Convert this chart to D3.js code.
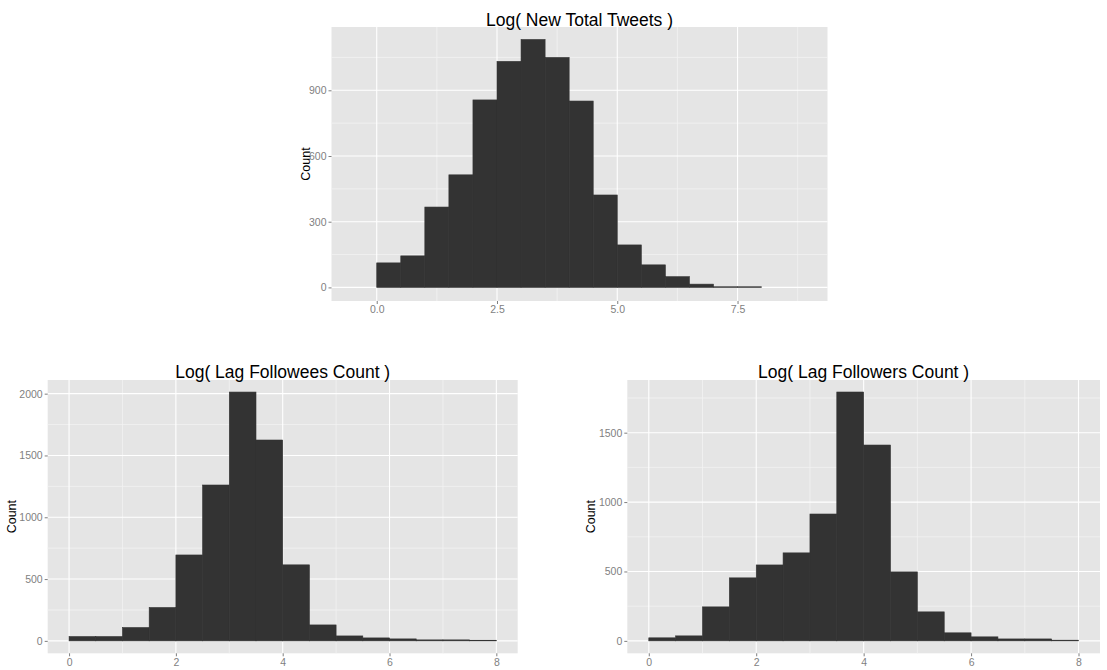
<!DOCTYPE html>
<html>
<head>
<meta charset="utf-8">
<script src="https://cdn.jsdelivr.net/npm/d3@7"></script>
<style>
  body { margin: 0; background: #fff; }
  svg text { font-family: "Liberation Sans", Arial, Helvetica, sans-serif; }
</style>
</head>
<body>
<svg id="chart" width="1107" height="670"></svg>
<script>
// bin starts (width 0.5)
const binStarts = [0, 0.5, 1, 1.5, 2, 2.5, 3, 3.5, 4, 4.5, 5, 5.5, 6, 6.5, 7, 7.5];
const binWidth = 0.5;

// counts
const tweetCounts = [112, 144, 367, 514, 856, 1032, 1132, 1050, 851, 422, 194, 103, 49, 15, 3, 3];
const followeeCounts = [35, 35, 108, 270, 695, 1261, 2013, 1625, 615, 129, 40, 24, 16, 8, 8, 5];
const followerCounts = [22, 36, 245, 454, 547, 634, 914, 1793, 1411, 497, 209, 58, 29, 14, 14, 5];

// tick labels
const tweetXTicks = [0, 2.5, 5, 7.5];
const tweetXMinor = [1.25, 3.75, 6.25, 8.75];
const tweetYTicks = [0, 300, 600, 900];
const tweetYMinor = [150, 450, 750, 1050];
const countXTicks = [0, 2, 4, 6, 8];
const countXMinor = [1, 3, 5, 7];
const followeeYTicks = [0, 500, 1000, 1500, 2000];
const followeeYMinor = [250, 750, 1250, 1750];
const followerYTicks = [0, 500, 1000, 1500];
const followerYMinor = [250, 750, 1250, 1750];

const svg = d3.select("#chart");

function drawHist(opt) {
  const { left, top, width, height } = opt;
  const g = svg.append("g").attr("transform", `translate(${left},${top})`);

  const x = d3.scaleLinear().domain(opt.xDomain).range([0, width]);
  const y = d3.scaleLinear().domain(opt.yDomain).range([height, 0]);

  // panel background
  g.append("rect")
    .attr("width", width).attr("height", height)
    .attr("fill", "#e5e5e5");

  // minor grid
  g.selectAll(".hminor").data(opt.yMinor).enter().append("line")
    .attr("x1", 0).attr("x2", width)
    .attr("y1", d => y(d)).attr("y2", d => y(d))
    .attr("stroke", "#f2f2f2").attr("stroke-width", 0.8);
  g.selectAll(".vminor").data(opt.xMinor).enter().append("line")
    .attr("y1", 0).attr("y2", height)
    .attr("x1", d => x(d)).attr("x2", d => x(d))
    .attr("stroke", "#f2f2f2").attr("stroke-width", 0.8);

  // major grid
  g.selectAll(".hmajor").data(opt.yTicks).enter().append("line")
    .attr("x1", 0).attr("x2", width)
    .attr("y1", d => y(d)).attr("y2", d => y(d))
    .attr("stroke", "#fff").attr("stroke-width", 1.1);
  g.selectAll(".vmajor").data(opt.xTicks).enter().append("line")
    .attr("y1", 0).attr("y2", height)
    .attr("x1", d => x(d)).attr("x2", d => x(d))
    .attr("stroke", "#fff").attr("stroke-width", 1.1);

  // bars
  g.selectAll(".bar").data(opt.counts).enter().append("rect")
    .attr("x", (d, i) => x(binStarts[i]))
    .attr("width", (d, i) => x(binStarts[i] + binWidth) - x(binStarts[i]))
    .attr("y", d => y(d))
    .attr("height", d => y(0) - y(d))
    .attr("fill", "#333333")
    .attr("stroke", "#333333")
    .attr("stroke-width", 0.6);

  // axes
  const xAxis = g.append("g")
    .attr("transform", `translate(0,${height})`)
    .call(d3.axisBottom(x).tickValues(opt.xTicks).tickFormat(opt.xFormat).tickSize(3).tickPadding(2));
  const yAxis = g.append("g")
    .call(d3.axisLeft(y).tickValues(opt.yTicks).tickFormat(d3.format("d")).tickSize(3).tickPadding(2));
  [xAxis, yAxis].forEach(a => {
    a.select(".domain").remove();
    a.selectAll("line").attr("stroke", "#7f7f7f");
    a.selectAll("text").attr("fill", "#7f7f7f").style("font-size", "10.5px");
  });

  // title
  g.append("text")
    .attr("x", width / 2).attr("y", opt.titleY)
    .attr("text-anchor", "middle")
    .style("font-size", "17.5px")
    .attr("fill", "#000")
    .text(opt.title);

  // y label
  g.append("text")
    .attr("transform", `translate(${opt.ylabX},${height / 2}) rotate(-90)`)
    .attr("text-anchor", "middle")
    .style("font-size", "12.5px")
    .attr("fill", "#000")
    .text("Count");
}

drawHist({
  left: 331.5, top: 27, width: 496, height: 274,
  xDomain: [-0.94, 9.37], yDomain: [-62, 1189],
  counts: tweetCounts,
  xTicks: tweetXTicks, xMinor: tweetXMinor, xFormat: d3.format(".1f"),
  yTicks: tweetYTicks, yMinor: tweetYMinor,
  title: "Log( New Total Tweets )", titleY: -1.5, ylabX: -22
});

drawHist({
  left: 47.7, top: 380, width: 470, height: 273.3,
  xDomain: [-0.4, 8.4], yDomain: [-100.5, 2110.5],
  counts: followeeCounts,
  xTicks: countXTicks, xMinor: countXMinor, xFormat: d3.format("d"),
  yTicks: followeeYTicks, yMinor: followeeYMinor,
  title: "Log( Lag Followees Count )", titleY: -2, ylabX: -32
});

drawHist({
  left: 627.3, top: 380, width: 472.7, height: 273.3,
  xDomain: [-0.4, 8.4], yDomain: [-89.5, 1879.5],
  counts: followerCounts,
  xTicks: countXTicks, xMinor: countXMinor, xFormat: d3.format("d"),
  yTicks: followerYTicks, yMinor: followerYMinor,
  title: "Log( Lag Followers Count )", titleY: -2, ylabX: -32
});
</script>
</body>
</html>
